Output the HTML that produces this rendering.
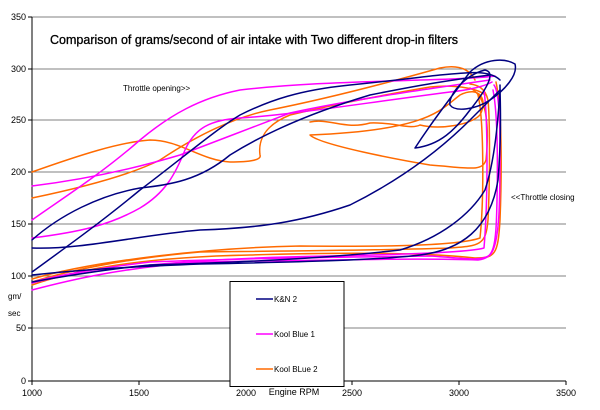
<!DOCTYPE html>
<html><head><meta charset="utf-8"><style>
html,body{margin:0;padding:0;background:#fff;}
svg{display:block;font-family:"Liberation Sans",Arial,sans-serif;}
</style></head><body>
<svg width="600" height="410" viewBox="0 0 600 410">
<rect width="600" height="410" fill="#fff"/>
<g stroke="#808080" stroke-width="1">
<line x1="32" y1="17" x2="566" y2="17"/><line x1="32" y1="69" x2="566" y2="69"/>
<line x1="32" y1="120" x2="566" y2="120"/><line x1="32" y1="172" x2="566" y2="172"/>
<line x1="32" y1="224" x2="566" y2="224"/><line x1="32" y1="276" x2="566" y2="276"/>
<line x1="32" y1="328" x2="566" y2="328"/>
</g>
<g stroke="#000" stroke-width="1">
<line x1="32" y1="17" x2="32" y2="381"/><line x1="32" y1="381" x2="566" y2="381"/>
<line x1="28" y1="17" x2="32" y2="17"/><line x1="28" y1="69" x2="32" y2="69"/><line x1="28" y1="120" x2="32" y2="120"/><line x1="28" y1="172" x2="32" y2="172"/><line x1="28" y1="224" x2="32" y2="224"/><line x1="28" y1="276" x2="32" y2="276"/><line x1="28" y1="328" x2="32" y2="328"/><line x1="28" y1="381" x2="32" y2="381"/>
<line x1="32" y1="381" x2="32" y2="385"/><line x1="139" y1="381" x2="139" y2="385"/><line x1="246" y1="381" x2="246" y2="385"/><line x1="352" y1="381" x2="352" y2="385"/><line x1="459" y1="381" x2="459" y2="385"/><line x1="566" y1="381" x2="566" y2="385"/>
</g>
<g font-size="9" fill="#000" text-anchor="end">
<text x="26" y="20">350</text><text x="26" y="72">300</text><text x="26" y="123">250</text><text x="26" y="175">200</text><text x="26" y="227">150</text><text x="26" y="279">100</text><text x="26" y="331">50</text><text x="26" y="384">0</text>
</g>
<g font-size="9" fill="#000" text-anchor="middle">
<text x="32" y="396">1000</text><text x="139" y="396">1500</text><text x="246" y="396">2000</text><text x="352" y="396">2500</text><text x="459" y="396">3000</text><text x="566" y="396">3500</text>
<text x="294" y="395">Engine RPM</text>
</g>
<text x="8" y="299" font-size="8">gm/</text><text x="8" y="316" font-size="8">sec</text>
<text x="50" y="44" font-size="12.5" font-weight="normal" fill="#000" textLength="408" lengthAdjust="spacingAndGlyphs" stroke="#000" stroke-width="0.3">Comparison of grams/second of air intake with Two different drop-in filters</text>
<text x="123" y="91" font-size="8">Throttle opening&gt;&gt;</text>
<text x="511" y="200" font-size="8">&lt;&lt;Throttle closing</text>
<g fill="none" stroke-width="1.5" stroke-linejoin="round" stroke-linecap="round">
<g stroke="#FF6A00">
<path d="M32,172 C80,155 120,142 150,140 C180,140 200,160 230,162 C250,162 262,160 260,155 C258,140 265,125 290,115 C340,103 400,92 430,87 C460,84 480,90 485,95"/>
<path d="M32,198 C80,188 130,175 160,160 C190,140 230,118 270,110 C320,100 380,85 440,68 C460,64 470,70 475,80"/>
<path d="M310,122 C330,118 345,130 370,123 C395,122 410,130 420,125 C440,130 470,125 480,115 C488,100 480,85 460,95 C440,110 430,130 310,135 C320,145 400,160 430,165 C470,168 482,172 486,160 C490,120 485,95 470,88"/>
<path d="M32,282 C70,270 130,258 200,252 C300,251 400,250 450,248 C480,246 486,245 488,220 C490,180 490,120 488,100 C485,88 478,85 470,84"/>
<path d="M32,285 C80,268 150,257 250,255 C350,252 430,253 475,258 C495,258 498,255 500,220 C502,170 502,110 496,82"/>
<path d="M32,279 C90,262 200,248 300,246 C400,247 460,245 480,238 C484,200 484,120 478,95"/>
</g>
<g stroke="#FF00FF">
<path d="M32,220 C60,200 100,175 140,140 C170,115 200,98 240,90 C300,83 360,82 420,80 C460,79 480,78 495,76"/>
<path d="M32,186 C80,180 130,170 180,155 C220,140 250,128 290,113 C350,100 420,90 490,80"/>
<path d="M32,238 C80,232 110,225 140,208 C165,193 175,175 185,150 C195,128 210,120 240,118 C290,115 350,105 450,92 C470,90 485,86 492,82"/>
<path d="M32,282 C60,275 100,268 150,262 C250,258 350,257 430,256 C465,258 480,262 490,255 C500,245 500,200 500,150 C500,110 498,90 494,85"/>
<path d="M32,290 C70,280 120,268 200,262 C330,260 420,258 478,260 C494,258 496,250 497,200 C498,150 497,110 493,90"/>
<path d="M32,283 C90,268 200,258 330,256 C420,254 470,252 484,248 C488,200 488,120 484,90"/>
</g>
<g stroke="#000080">
<path d="M32,272 C65,248 100,223 140,190 C180,160 215,130 240,115 C270,100 300,90 350,85 C400,80 420,77 440,75 C470,72 490,70 500,80"/>
<path d="M32,240 C60,215 100,195 140,188 C170,185 200,180 230,155 C270,130 320,110 370,95 C420,85 450,80 490,75"/>
<path d="M32,248 C80,250 140,235 200,230 C260,228 300,222 350,205 C400,180 440,150 470,120 C485,105 495,95 500,90"/>
<path d="M32,282 C60,277 100,270 150,265 C250,262 330,258 400,250 C440,238 470,215 485,190 C495,160 498,120 500,90"/>
<path d="M415,148 C430,125 445,105 470,72 C485,58 505,58 515,64 C518,75 505,90 490,100 C475,110 455,112 450,105 C448,95 465,75 485,70 C495,72 490,85 470,110 C455,130 440,145 415,148"/>
<path d="M32,275 C60,272 100,268 200,264 C300,262 380,260 420,255 C460,250 490,230 498,180 C502,130 500,100 500,85"/>
</g>
</g>
<rect x="230" y="281.5" width="114" height="105" fill="#fff" stroke="#000" stroke-width="1"/>
<line x1="256" y1="299" x2="273" y2="299" stroke="#000080" stroke-width="1.5"/>
<line x1="256" y1="334" x2="273" y2="334" stroke="#FF00FF" stroke-width="1.5"/>
<line x1="256" y1="369" x2="273" y2="369" stroke="#FF6A00" stroke-width="1.5"/>
<g font-size="8" fill="#000">
<text x="274" y="302">K&amp;N 2</text><text x="274" y="337">Kool Blue 1</text><text x="274" y="372">Kool BLue 2</text>
</g>
</svg>
</body></html>
